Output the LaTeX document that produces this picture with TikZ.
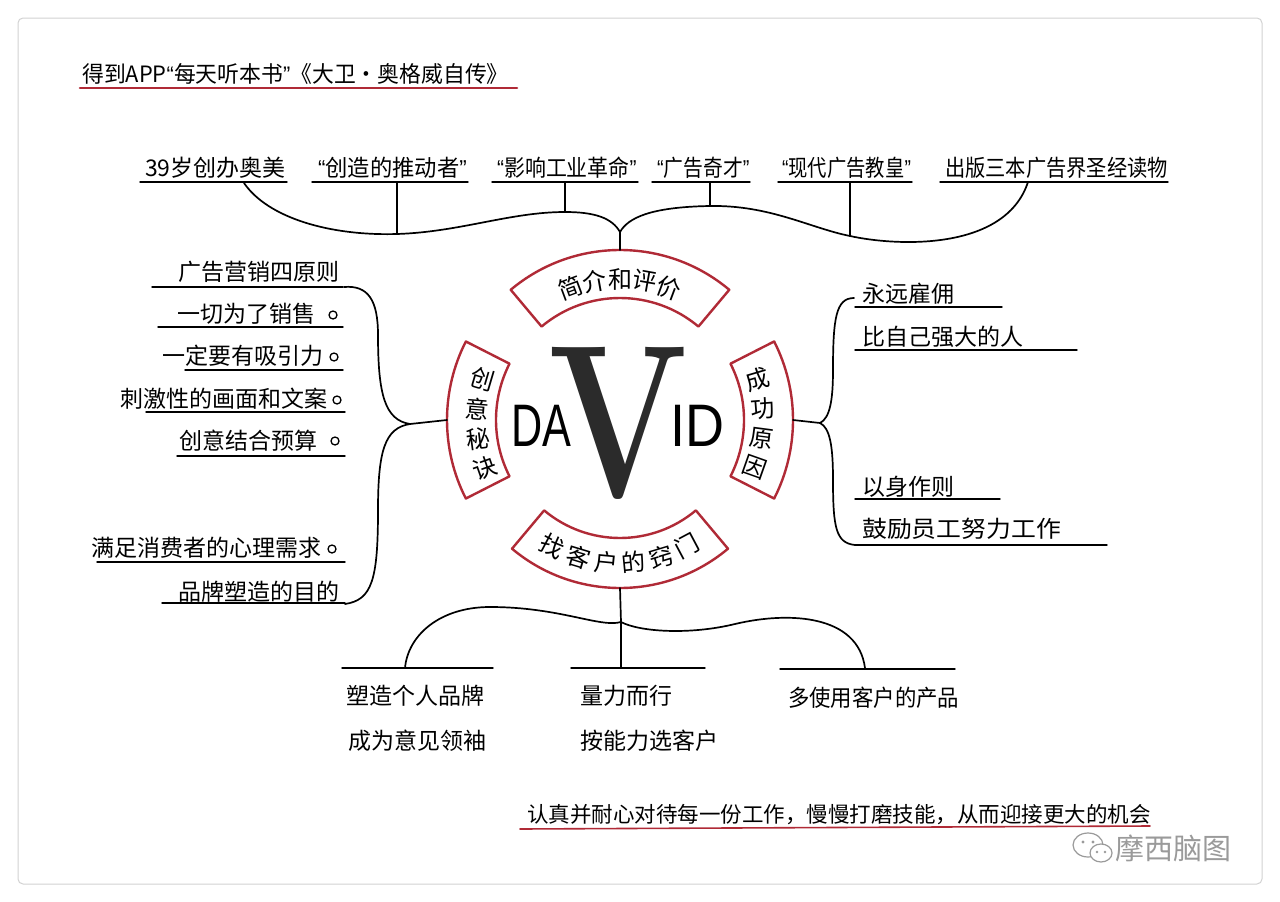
\documentclass[tikz,border=0pt]{standalone}
\usepackage{fontspec}
\newfontfamily\cjk{Noto Sans CJK SC}
\newfontfamily\latsans{Liberation Sans}
\newcommand\myoq{{\latsans “}}
\newcommand\mycq{{\latsans ”}}
\definecolor{redline}{HTML}{B02A36}
\definecolor{framecol}{HTML}{D2D2D2}
\definecolor{vgray}{HTML}{2B2B2B}
\definecolor{wmgray}{HTML}{9A9A9A}
\begin{document}
\begin{tikzpicture}[x=1pt,y=-1pt,line cap=round,line join=round,
  ink/.style={line width=1.7pt,black},
  uline/.style={line width=1.4pt,black},
  secbox/.style={draw=redline,line width=2.4pt,fill=white},
  lbl/.style={inner sep=0pt,anchor=base west,font=\cjk\fontsize{23}{23}\selectfont},
  lblr/.style={inner sep=0pt,anchor=base east,font=\cjk\fontsize{23}{23}\selectfont},
  boxt/.style={inner sep=0pt,font=\cjk\fontsize{24}{24}\selectfont},
  dot/.style={line width=1.3pt,black}]
\useasboundingbox (0,0) rectangle (1280,902);
\fill[white] (0,0) rectangle (1280,902);
\draw[framecol,line width=1pt,rounded corners=5pt] (18,18) rectangle (1262,884);

% title
\node[lbl,xscale=0.97,font=\cjk\fontsize{22.5}{22.5}\selectfont] (title) at (82,82) {得到APP\myoq 每天听本书\mycq《大卫·奥格威自传》};
\draw[redline,line width=2.6pt] (80,88) -- (517,88);

% top labels
\node[lbl] (t1) at (145,176) {39岁创办奥美};
\node[lbl,xscale=0.97] (t2) at (318,176) {\myoq 创造的推动者\mycq};
\node[lbl,xscale=0.91] (t3) at (497,176) {\myoq 影响工业革命\mycq};
\node[lbl,xscale=0.86] (t4) at (657,176) {\myoq 广告奇才\mycq};
\node[lbl,xscale=0.84] (t5) at (782,176) {\myoq 现代广告教皇\mycq};
\node[lbl,xscale=0.88] (t6) at (945,176) {出版三本广告界圣经读物};
\draw[uline] (140,182) -- (287,182);
\draw[uline] (312,182) -- (468,182);
\draw[uline] (492,182) -- (638,182);
\draw[uline] (652,182) -- (750,182);
\draw[uline] (778,182) -- (912,182);
\draw[uline] (940,182) -- (1168,182);

% centre sectors
\begin{scope}[shift={(620,420)},yscale=-1]
  \draw[secbox] (50:122) -- (50:170) arc[start angle=50,end angle=130,radius=170] -- (130:122) arc[start angle=130,end angle=50,radius=122] -- cycle;
  \draw[secbox] (230:118) -- (230:168) arc[start angle=230,end angle=310,radius=168] -- (310:118) arc[start angle=310,end angle=230,radius=118] -- cycle;
  \draw[secbox] (153:124) -- (153:173) arc[start angle=153,end angle=207,radius=173] -- (207:124) arc[start angle=207,end angle=153,radius=124] -- cycle;
  \draw[secbox] (-27:124) -- (-27:173) arc[start angle=-27,end angle=27,radius=173] -- (27:124) arc[start angle=27,end angle=-27,radius=124] -- cycle;
  \coordinate (btop) at (90:170);
  \coordinate (bbot) at (270:168);
  \coordinate (bleft) at (180:173);
  \coordinate (bright) at (0:173);
  % top text
  \node[boxt,rotate=20.4] (a1) at (110.4:141) {简};
  \node[boxt,rotate=10.2] (a2) at (100.2:141) {介};
  \node[boxt] (a3) at (90:141) {和};
  \node[boxt,rotate=-10.2] (a4) at (79.8:141) {评};
  \node[boxt,rotate=-20.4] (a5) at (69.6:141) {价};
  % bottom text
  \node[boxt,rotate=-28] (b1) at (242:143) {找};
  \node[boxt,rotate=-16.8] (b2) at (253.2:143) {客};
  \node[boxt,rotate=-5.6] (b3) at (264.4:143) {户};
  \node[boxt,rotate=5.6] (b4) at (275.6:143) {的};
  \node[boxt,rotate=16.8] (b5) at (286.8:143) {窍};
  \node[boxt,rotate=28] (b6) at (298:143) {门};
  % left text
  \node[boxt,rotate=-16.5] (c1t) at (163.5:143) {创};
  \node[boxt,rotate=-4.5] (c2t) at (175.5:143) {意};
  \node[boxt,rotate=7.5] (c3t) at (187.5:143) {秘};
  \node[boxt,rotate=19.5] (c4t) at (199.5:143) {诀};
  % right text
  \node[boxt,rotate=16.5] (d1) at (16.5:143) {成};
  \node[boxt,rotate=4.5] (d2) at (4.5:143) {功};
  \node[boxt,rotate=-7.5] (d3) at (-7.5:143) {原};
  \node[boxt,rotate=-19.5] (d4) at (-19.5:143) {因};
\end{scope}

% DAVID
\node[inner sep=0pt,text=vgray,xscale=0.75,font=\bfseries\fontsize{219}{219}\selectfont] (V) at (618,423) {V};
\node[inner sep=0pt,xscale=0.72,font=\latsans\fontsize{60}{60}\selectfont] (DA) at (541,426) {DA};
\node[inner sep=0pt,xscale=0.9,font=\latsans\fontsize{60}{60}\selectfont] (ID) at (697,426) {ID};

% top tree
\coordinate (J) at (620,232);
\coordinate (k1) at (244,183);
\coordinate (k2) at (397,234);
\coordinate (k3) at (565,212);
\coordinate (k4) at (710,206);
\coordinate (k5) at (850,236);
\coordinate (k6) at (1028,182);
\draw[ink] (k1) .. controls (268,218) and (330,236) .. (k2) .. controls (460,232) and (510,212) .. (k3) .. controls (595,212) and (612,218) .. (J) .. controls (628,218) and (650,207) .. (k4) .. controls (770,205) and (810,228) .. (k5) .. controls (895,246) and (1005,252) .. (k6);
\draw[ink] (397,182) -- (k2);
\draw[ink] (565,182) -- (k3);
\draw[ink] (710,182) -- (k4);
\draw[ink] (850,182) -- (k5);
\draw[ink] (J) -- (btop);

% left brace
\coordinate (L0) at (344,287);
\coordinate (LT) at (410,424);
\coordinate (L1) at (345,604);
\draw[ink] (L0) .. controls (368,285) and (378,300) .. (378,335) .. controls (378,395) and (385,420) .. (LT);
\draw[ink] (LT) .. controls (385,428) and (378,450) .. (378,510) .. controls (378,580) and (372,600) .. (L1);
\draw[ink] (LT) -- (bleft);

% left labels
\node[lblr] (l1) at (340,280) {广告营销四原则};
\node[lblr] (l2) at (316,322) {一切为了销售};
\node[lblr] (l3) at (324,364) {一定要有吸引力};
\node[lblr] (l4) at (328,407) {刺激性的画面和文案};
\node[lblr] (l5) at (318,449) {创意结合预算};
\node[lblr] (l6) at (322,556) {满足消费者的心理需求};
\node[lblr] (l7) at (340,600) {品牌塑造的目的};
\draw[dot] (333,315) circle[radius=4];
\draw[dot] (334,357) circle[radius=4];
\draw[dot] (337,400) circle[radius=4];
\draw[dot] (335,441) circle[radius=4];
\draw[dot] (332,549) circle[radius=4];
\draw[uline] (152,287) -- (343,287);
\draw[uline] (158,327) -- (343,327);
\draw[uline] (185,370) -- (343,370);
\draw[uline] (146,412) -- (345,412);
\draw[uline] (177,456) -- (345,456);
\draw[uline] (97,562) -- (345,562);
\draw[uline] (162,603) -- (345,603);

% right brace
\coordinate (RT) at (820,423);
\draw[ink] (bright) -- (RT);
\draw[ink] (RT) .. controls (830,418) and (833,400) .. (833,370) .. controls (833,318) and (836,298) .. (854,298);
\draw[ink] (RT) .. controls (830,428) and (833,446) .. (833,480) .. controls (833,528) and (836,543) .. (855,545);

% right labels
\node[lbl] (r1) at (862,302) {永远雇佣};
\node[lbl] (r2) at (862,345) {比自己强大的人};
\node[lbl] (r3) at (862,495) {以身作则};
\node[lbl,xscale=1.08] (r4) at (862,537) {鼓励员工努力工作};
\draw[uline] (855,307) -- (1002,307);
\draw[uline] (855,350) -- (1077,350);
\draw[uline] (855,499) -- (1000,499);
\draw[uline] (855,545) -- (1107,545);

% bottom tree
\coordinate (J2) at (621,622);
\draw[ink] (bbot) -- (J2) -- (621,668);
\draw[ink] (J2) .. controls (600,628) and (560,607) .. (490,607) .. controls (440,607) and (408,635) .. (405,668);
\draw[ink] (J2) .. controls (640,632) and (690,635) .. (735,624) .. controls (790,611) and (858,615) .. (865,668);
\draw[uline] (342,668) -- (493,668);
\draw[uline] (571,668) -- (705,668);
\draw[uline] (780,669) -- (955,669);

% bottom labels
\node[lbl] (m1) at (346,704) {塑造个人品牌};
\node[lbl] (m2) at (348,749) {成为意见领袖};
\node[lbl] (m3) at (580,704) {量力而行};
\node[lbl] (m4) at (580,749) {按能力选客户};
\node[lbl,xscale=0.93] (m5) at (788,706) {多使用客户的产品};

% bottom sentence
\node[lbl,font=\cjk\fontsize{21.5}{21.5}\selectfont] (sent) at (527,822) {认真并耐心对待每一份工作，慢慢打磨技能，从而迎接更大的机会};
\draw[redline,line width=1.6pt] (520,829) -- (1150,826);

% watermark
\begin{scope}[wmgray,line width=1.2pt]
  \draw[fill=white] (1088,845) ellipse[x radius=15,y radius=12];
  \draw[fill=white] (1101,853) ellipse[x radius=11,y radius=9];
  \fill (1083,842) circle[radius=1.6];
  \fill (1093,842) circle[radius=1.6];
  \fill (1097,852) circle[radius=1.3];
  \fill (1105,852) circle[radius=1.3];
\end{scope}
\node[lbl,text=wmgray,font=\cjk\fontsize{29}{29}\selectfont] (wm) at (1115,859) {摩西脑图};
\end{tikzpicture}
\end{document}
